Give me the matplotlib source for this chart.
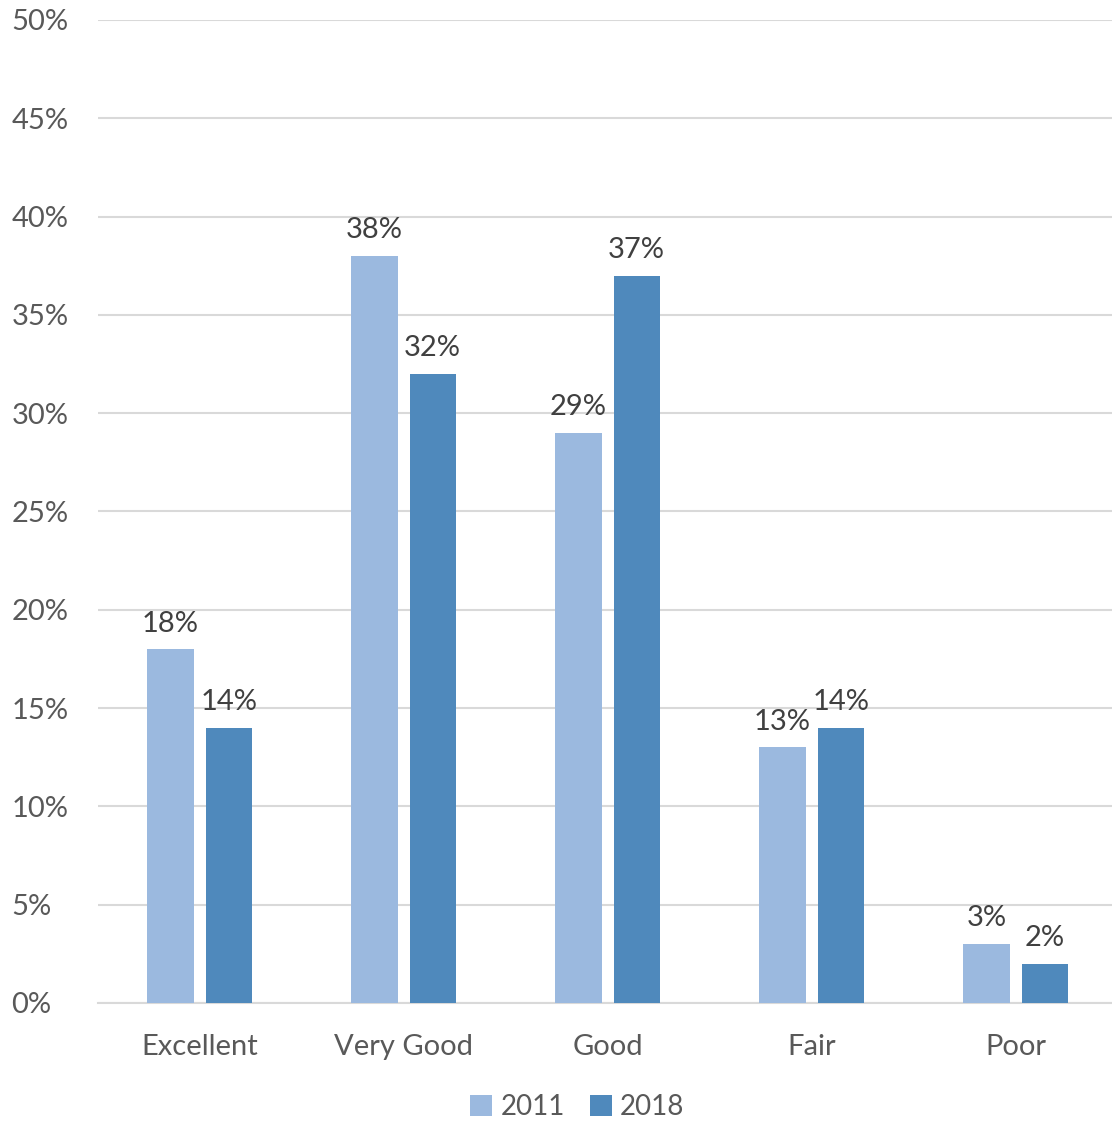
import numpy as np
import matplotlib.pyplot as plt
from matplotlib.ticker import PercentFormatter

plt.rcParams['font.family'] = ['Lato', 'DejaVu Sans']

categories = ["Excellent", "Very Good", "Good", "Fair", "Poor"]
years = ["2011", "2018"]
v2011 = [18, 38, 29, 13, 3]
v2018 = [14, 32, 37, 14, 2]

c2011 = "#9BB9DF"
c2018 = "#4F89BC"

fig = plt.figure(figsize=(11.12, 11.21), dpi=100)
ax = fig.add_axes([0.0877, 0.1053, 0.9173, 0.8769])

x = np.arange(len(categories))
w = 0.227
off = 0.143
b1 = ax.bar(x - off, v2011, w, color=c2011, label=years[0], zorder=3)
b2 = ax.bar(x + off, v2018, w, color=c2018, label=years[1], zorder=3)

for bars in (b1, b2):
    for b in bars:
        ax.annotate(f"{int(b.get_height())}%", (b.get_x() + b.get_width() / 2, b.get_height()),
                    xytext=(0, 9), textcoords="offset points", ha="center", va="bottom",
                    fontsize=21, color="#404040")

ax.set_xlim(-0.5, len(categories) - 0.5)
ax.set_ylim(0, 50)
ax.set_yticks(np.arange(0, 51, 5))
ax.yaxis.set_major_formatter(PercentFormatter(decimals=0))
ax.set_xticks(x)
ax.set_xticklabels(categories)
ax.grid(axis="y", color="#D9D9D9", linewidth=1.5, zorder=0)
for s in ["top", "right", "left"]:
    ax.spines[s].set_visible(False)
ax.spines["bottom"].set_color("#D9D9D9")
ax.spines["bottom"].set_linewidth(1.5)
ax.tick_params(axis="both", length=0, labelsize=21, labelcolor="#595959")
ax.tick_params(axis="x", pad=22)
ax.tick_params(axis="y", pad=62)
for t in ax.get_yticklabels():
    t.set_horizontalalignment("left")

fig.legend(handles=[b1, b2], labels=years, loc="center", bbox_to_anchor=(0.519, 0.0125),
           ncol=2, frameon=False, fontsize=20, labelcolor="#595959",
           handlelength=0.8, handleheight=0.8, handletextpad=0.3, columnspacing=0.9)

fig.savefig("out.png", dpi=100)
